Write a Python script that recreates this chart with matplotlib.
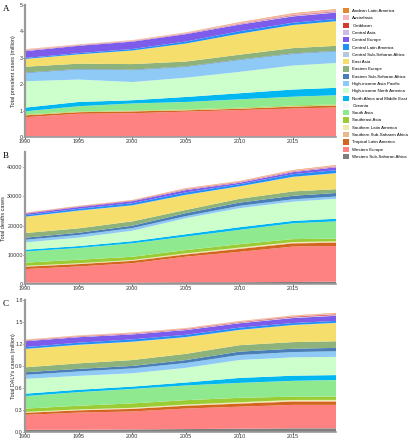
import matplotlib
matplotlib.use("Agg")
import matplotlib.pyplot as plt
from matplotlib.patches import Patch
import matplotlib.transforms as mtransforms

plt.rcParams['font.family'] = ['Liberation Sans', 'DejaVu Sans']

years = [1990, 1995, 2000, 2005, 2010, 2015, 2019]

regions = ["Andean Latin America", "Australasia", "Caribbean", "Central Asia",
           "Central Europe", "Central Latin America", "Central Sub-Saharan Africa",
           "East Asia", "Eastern Europe", "Eastern Sub-Saharan Africa",
           "High-income Asia Pacific", "High-income North America",
           "North Africa and Middle East", "Oceania", "South Asia", "Southeast Asia",
           "Southern Latin America", "Southern Sub-Saharan Africa",
           "Tropical Latin America", "Western Europe", "Western Sub-Saharan Africa"]

colors = ["#E8872E", "#F4B8C4", "#D53A2F", "#CDBBE3", "#7D5CEB", "#2190F5",
          "#B4C6E0", "#F5DE6B", "#8DB27B", "#4A7EB6", "#8FC9F6", "#CCFFCC",
          "#00B7F1", "#F4F4F4", "#8FE98F", "#9BCC33", "#EFEAB0", "#E7BA8B",
          "#D3661E", "#FF8282", "#7F7F7F"]

# Panel A: prevalent cases (million)
prev = {
    "Andean Latin America": [0.01, 0.005, 0.005, 0.01, 0.015, 0.02, 0.02],
    "Australasia": [0.03, 0.02, 0.025, 0.025, 0.04, 0.05, 0.06],
    "Caribbean": [0.01, 0.01, 0.01, 0.01, 0.015, 0.02, 0.02],
    "Central Asia": [0.02, 0.015, 0.015, 0.015, 0.02, 0.03, 0.03],
    "Central Europe": [0.26, 0.28, 0.28, 0.28, 0.25, 0.24, 0.24],
    "Central Latin America": [0.035, 0.045, 0.055, 0.075, 0.095, 0.085, 0.085],
    "Central Sub-Saharan Africa": [0.005, 0.005, 0.005, 0.005, 0.005, 0.005, 0.005],
    "East Asia": [0.29, 0.35, 0.51, 0.68, 0.79, 0.87, 0.93],
    "Eastern Europe": [0.22, 0.20, 0.21, 0.18, 0.18, 0.20, 0.19],
    "Eastern Sub-Saharan Africa": [0.02, 0.02, 0.02, 0.02, 0.02, 0.02, 0.02],
    "High-income Asia Pacific": [0.31, 0.38, 0.45, 0.41, 0.45, 0.44, 0.44],
    "High-income North America": [1.00, 0.85, 0.69, 0.73, 0.81, 0.91, 0.94],
    "North Africa and Middle East": [0.14, 0.16, 0.12, 0.19, 0.23, 0.27, 0.28],
    "Oceania": [0.002, 0.002, 0.002, 0.002, 0.002, 0.002, 0.002],
    "South Asia": [0.115, 0.19, 0.265, 0.28, 0.315, 0.33, 0.345],
    "Southeast Asia": [0.02, 0.02, 0.02, 0.02, 0.025, 0.03, 0.03],
    "Southern Latin America": [0.01, 0.01, 0.01, 0.01, 0.01, 0.01, 0.01],
    "Southern Sub-Saharan Africa": [0.005, 0.005, 0.005, 0.005, 0.005, 0.006, 0.006],
    "Tropical Latin America": [0.07, 0.06, 0.07, 0.05, 0.05, 0.07, 0.07],
    "Western Europe": [0.74, 0.87, 0.89, 0.95, 1.01, 1.07, 1.11],
    "Western Sub-Saharan Africa": [0.01, 0.01, 0.01, 0.01, 0.01, 0.01, 0.01],
}

# Panel B: deaths
deaths = {
    "Andean Latin America": [50, 60, 60, 100, 100, 150, 150],
    "Australasia": [100, 120, 120, 250, 200, 250, 300],
    "Caribbean": [100, 120, 120, 150, 150, 150, 150],
    "Central Asia": [100, 100, 100, 150, 150, 150, 150],
    "Central Europe": [500, 600, 700, 800, 500, 700, 1000],
    "Central Latin America": [500, 600, 700, 800, 700, 900, 1000],
    "Central Sub-Saharan Africa": [100, 100, 100, 100, 100, 100, 100],
    "East Asia": [5500, 6000, 5400, 5100, 4200, 4900, 5400],
    "Eastern Europe": [1600, 1500, 1500, 1100, 1300, 1500, 1300],
    "Eastern Sub-Saharan Africa": [700, 750, 800, 1000, 1100, 1200, 1200],
    "High-income Asia Pacific": [900, 900, 900, 700, 800, 800, 800],
    "High-income North America": [2500, 2900, 3600, 5500, 6500, 6600, 6800],
    "North Africa and Middle East": [600, 650, 700, 800, 900, 800, 900],
    "Oceania": [20, 20, 20, 20, 20, 20, 20],
    "South Asia": [3800, 4000, 4600, 4600, 4900, 5400, 5900],
    "Southeast Asia": [1100, 1200, 1100, 1100, 1150, 1000, 900],
    "Southern Latin America": [150, 150, 150, 200, 250, 250, 250],
    "Southern Sub-Saharan Africa": [150, 150, 150, 200, 200, 200, 250],
    "Tropical Latin America": [800, 800, 800, 750, 1000, 1100, 1100],
    "Western Europe": [4600, 5500, 6600, 8750, 10400, 12100, 12200],
    "Western Sub-Saharan Africa": [500, 500, 500, 600, 600, 700, 800],
}

# Panel C: DALYs (million)
dalys = {
    "Andean Latin America": [0.003, 0.003, 0.003, 0.003, 0.004, 0.004, 0.005],
    "Australasia": [0.007, 0.008, 0.009, 0.009, 0.010, 0.012, 0.014],
    "Caribbean": [0.005, 0.006, 0.006, 0.007, 0.007, 0.009, 0.010],
    "Central Asia": [0.006, 0.006, 0.007, 0.008, 0.008, 0.010, 0.010],
    "Central Europe": [0.081, 0.075, 0.068, 0.065, 0.060, 0.068, 0.070],
    "Central Latin America": [0.023, 0.028, 0.031, 0.030, 0.030, 0.026, 0.026],
    "Central Sub-Saharan Africa": [0.004, 0.004, 0.004, 0.004, 0.004, 0.004, 0.004],
    "East Asia": [0.248, 0.250, 0.247, 0.225, 0.205, 0.230, 0.248],
    "Eastern Europe": [0.067, 0.075, 0.080, 0.085, 0.088, 0.090, 0.090],
    "Eastern Sub-Saharan Africa": [0.036, 0.035, 0.034, 0.040, 0.046, 0.046, 0.046],
    "High-income Asia Pacific": [0.054, 0.060, 0.066, 0.066, 0.068, 0.072, 0.076],
    "High-income North America": [0.203, 0.190, 0.182, 0.200, 0.245, 0.250, 0.249],
    "North Africa and Middle East": [0.032, 0.032, 0.032, 0.040, 0.067, 0.070, 0.067],
    "Oceania": [0.001, 0.001, 0.001, 0.001, 0.001, 0.001, 0.001],
    "South Asia": [0.170, 0.185, 0.196, 0.200, 0.203, 0.215, 0.225],
    "Southeast Asia": [0.045, 0.050, 0.060, 0.060, 0.060, 0.045, 0.045],
    "Southern Latin America": [0.008, 0.008, 0.009, 0.010, 0.012, 0.014, 0.015],
    "Southern Sub-Saharan Africa": [0.005, 0.005, 0.006, 0.006, 0.007, 0.008, 0.008],
    "Tropical Latin America": [0.027, 0.030, 0.035, 0.038, 0.042, 0.045, 0.045],
    "Western Europe": [0.204, 0.235, 0.245, 0.280, 0.300, 0.320, 0.320],
    "Western Sub-Saharan Africa": [0.030, 0.030, 0.035, 0.040, 0.045, 0.050, 0.050],
}

W, H = 408, 440
fig = plt.figure(figsize=(W / 100, H / 100), dpi=100)

def ax_at(x0, x1, ytop, ybot):
    return fig.add_axes([x0 / W, 1 - ybot / H, (x1 - x0) / W, (ybot - ytop) / H])

panels = [
    (prev, "A", "Total prevalent cases (million)", 5, 137, (0, 5), [0, 1, 2, 3, 4, 5], None, 14),
    (deaths, "B", "Total deaths cases", 152.4, 284, (0, 45000), [0, 10000, 20000, 30000, 40000], None, 4),
    (dalys, "C", "Total DALYs cases (million)", 300, 432, (0, 1.8), [0.0, 0.3, 0.6, 0.9, 1.2, 1.5, 1.8], "%.1f", 14),
]

order = regions[::-1]  # bottom of stack = last legend item
stack_colors = colors[::-1]

for data, letter, ylabel, ytop, ybot, ylim, yticks, fmt, labx in panels:
    ax = ax_at(25, 336, ytop, ybot)
    ax.stackplot(years, [data[r] for r in order], colors=stack_colors, linewidth=0)
    ax.set_xlim(1990, 2019)
    ax.set_ylim(*ylim)
    ax.set_yticks(yticks)
    if fmt:
        ax.set_yticklabels([fmt % t for t in yticks])
    ax.set_xticks([1990, 1995, 2000, 2005, 2010, 2015])
    for s in ["top", "right"]:
        ax.spines[s].set_visible(False)
    ax.spines["left"].set_color("#9a9a9a")
    ax.spines["left"].set_linewidth(1.6)
    ax.spines["bottom"].set_color("#9a9a9a")
    ax.spines["bottom"].set_linewidth(1.2)
    ax.tick_params(axis="both", labelsize=3.9, length=1.2, width=0.5, pad=0.4,
                   colors="#333333")
    ax.set_ylabel(ylabel, fontsize=3.9, color="#222222", va="center")
    trans = mtransforms.blended_transform_factory(fig.transFigure, ax.transAxes)
    ax.yaxis.set_label_coords(labx / W, 0.5, transform=trans)
    fig.text(3 / W, 1 - (ytop + 4) / H, letter, fontsize=6.5, ha="left", va="center",
             family=["Liberation Serif", "DejaVu Serif"])

handles = [Patch(facecolor=c, edgecolor="none") for c in colors]
leg = fig.legend(handles, regions, loc="upper left",
                 bbox_to_anchor=(343 / W, 1 - 8 / H), frameon=False,
                 fontsize=3.15, handlelength=1.45, handleheight=1.45,
                 labelspacing=0.48, handletextpad=0.7, borderaxespad=0, borderpad=0)

fig.savefig("out.png", dpi=100)
